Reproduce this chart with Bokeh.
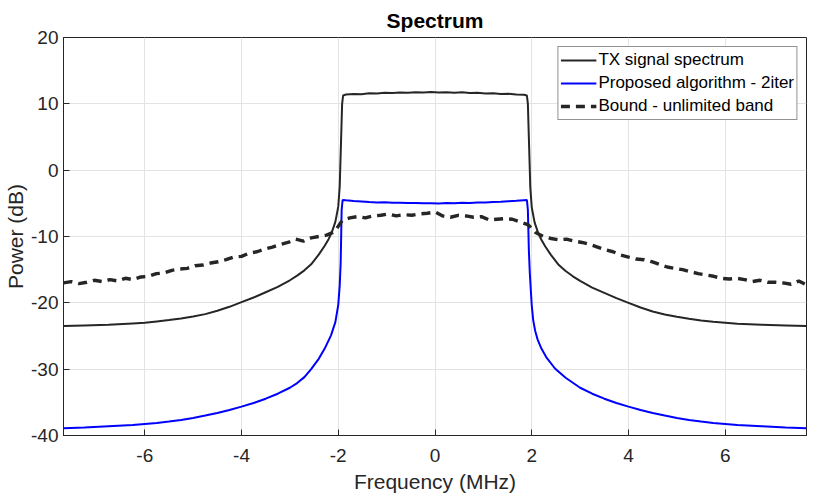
from bokeh.plotting import figure
from bokeh.models import Range1d, FixedTicker
from bokeh.embed import file_html
from bokeh.resources import INLINE

# ---------------- data ----------------
tx_x = [-7.68, -7.25, -6.75, -6.25, -6.0, -5.75, -5.5, -5.25, -5.0, -4.75, -4.5, -4.25,
        -4.0, -3.75, -3.5, -3.25, -3.0, -2.85, -2.7, -2.56, -2.4, -2.28, -2.2, -2.14,
        -2.06, -2.0, -1.97, -1.96, -1.94, -1.92, -1.90,
        -1.84, -1.68, -1.52, -1.36, -1.20, -1.04, -0.88, -0.72, -0.56, -0.40, -0.24, -0.08,
        0.08, 0.24, 0.40, 0.56, 0.72, 0.88, 1.04, 1.20, 1.36, 1.52, 1.68, 1.84,
        1.90, 1.92, 1.94, 1.96, 1.97, 2.0, 2.06, 2.14, 2.2, 2.28, 2.4, 2.56, 2.7, 2.85,
        3.0, 3.25, 3.5, 3.75, 4.0, 4.25, 4.5, 4.75, 5.0, 5.25, 5.5, 5.75, 6.0, 6.25,
        6.75, 7.25, 7.68]
tx_db = [-23.5, -23.4, -23.3, -23.1, -23.0, -22.8, -22.6, -22.35, -22.05, -21.7, -21.2, -20.6,
         -19.9, -19.2, -18.4, -17.6, -16.6, -15.9, -15.1, -14.2, -12.7, -11.4, -10.4, -9.5,
         -7.8, -5.5, -2.5, 0.0, 5.0, 10.0, 11.25,
         11.40, 11.50, 11.45, 11.58, 11.55, 11.66, 11.62, 11.72, 11.68, 11.76, 11.72, 11.78,
         11.70, 11.76, 11.68, 11.74, 11.64, 11.66, 11.56, 11.60, 11.48, 11.52, 11.42, 11.38,
         11.25, 10.0, 5.0, 0.0, -2.6, -5.6, -7.9, -9.6, -10.5, -11.5, -12.8, -14.3, -15.2, -16.0,
         -16.7, -17.7, -18.5, -19.3, -20.0, -20.7, -21.3, -21.75, -22.1, -22.4, -22.65, -22.85, -23.0, -23.15,
         -23.3, -23.4, -23.5]

alg_x = [-7.68, -7.25, -6.75, -6.25, -6.0, -5.75, -5.5, -5.25, -5.0, -4.75, -4.5, -4.25,
         -4.0, -3.75, -3.5, -3.25, -3.0, -2.85, -2.7, -2.56, -2.4, -2.28, -2.15, -2.06,
         -2.0, -1.97, -1.95, -1.94, -1.93, -1.91,
         -1.84, -1.68, -1.52, -1.36, -1.20, -1.04, -0.88, -0.72, -0.56, -0.40, -0.24, -0.08,
         0.08, 0.24, 0.40, 0.56, 0.72, 0.88, 1.04, 1.20, 1.36, 1.52, 1.68, 1.84,
         1.90, 1.92, 1.93, 1.94, 1.96, 1.98, 2.0, 2.03, 2.07, 2.12, 2.2, 2.31, 2.48, 2.7,
         3.0, 3.25, 3.5, 3.75, 4.0, 4.25, 4.5, 4.75, 5.0, 5.25, 5.5, 5.75, 6.0, 6.25,
         6.75, 7.25, 7.68]
alg_db = [-38.9, -38.8, -38.6, -38.4, -38.25, -38.1, -37.9, -37.65, -37.35, -37.0, -36.6, -36.15,
          -35.65, -35.1, -34.45, -33.7, -32.8, -32.1, -31.2, -30.0, -28.4, -26.9, -24.9, -22.9,
          -20.3, -17.4, -14.0, -10.0, -6.0, -4.5,
          -4.55, -4.66, -4.72, -4.80, -4.86, -4.84, -4.92, -4.90, -4.96, -4.94, -5.00, -4.98,
          -5.02, -4.96, -4.98, -4.92, -4.94, -4.86, -4.88, -4.80, -4.76, -4.68, -4.62, -4.52,
          -4.5, -6.0, -9.0, -12.0, -15.5, -18.0, -20.4, -22.6, -24.2, -25.5, -26.9, -28.3, -29.9, -31.3,
          -32.8, -33.7, -34.45, -35.1, -35.65, -36.15, -36.6, -37.0, -37.35, -37.65, -37.9, -38.1, -38.25, -38.4,
          -38.6, -38.8, -38.9]

bound_x = [-7.68, -7.52, -7.36, -7.20, -7.04, -6.88, -6.72, -6.56, -6.40, -6.24, -6.08, -5.92,
           -5.76, -5.60, -5.44, -5.28, -5.12, -4.96, -4.80, -4.64, -4.48, -4.32, -4.16, -4.00,
           -3.84, -3.68, -3.52, -3.36, -3.20, -3.04, -2.88, -2.72, -2.56, -2.40, -2.24, -2.08,
           -1.92, -1.76, -1.60, -1.44, -1.28, -1.12, -0.96, -0.80, -0.64, -0.48, -0.32, -0.16,
           0.00, 0.16, 0.32, 0.48, 0.64, 0.80, 0.96, 1.12, 1.28, 1.44, 1.60, 1.76,
           1.92, 2.08, 2.24, 2.40, 2.56, 2.72, 2.88, 3.04, 3.20, 3.36, 3.52, 3.68,
           3.84, 4.00, 4.16, 4.32, 4.48, 4.64, 4.80, 4.96, 5.12, 5.28, 5.44, 5.60,
           5.76, 5.92, 6.08, 6.24, 6.40, 6.56, 6.72, 6.88, 7.04, 7.20, 7.36, 7.52, 7.68]
bound_db = [-17.0, -16.8, -17.1, -16.9, -16.6, -16.8, -16.5, -16.7, -16.3, -16.5, -16.1, -16.0,
            -15.6, -15.5, -15.1, -14.9, -14.8, -14.4, -14.3, -14.0, -13.8, -13.5, -13.1, -13.0,
            -12.5, -12.3, -11.9, -11.6, -11.2, -10.9, -10.4, -10.7, -10.2, -10.0, -9.8, -9.3,
            -7.6, -7.2, -7.0, -7.2, -6.9, -6.8, -6.6, -6.9, -6.7, -6.8, -6.6, -6.5,
            -6.3, -6.9, -7.1, -6.8, -6.9, -7.1, -7.0, -7.5, -7.4, -7.3, -7.4, -7.8,
            -8.2, -9.4, -10.0, -10.3, -10.5, -10.4, -10.7, -10.9, -11.2, -11.6, -12.0, -12.3,
            -12.8, -13.1, -13.4, -13.5, -13.8, -14.2, -14.6, -14.8, -15.0, -15.3, -15.6, -15.8,
            -16.0, -16.3, -16.4, -16.3, -16.5, -16.8, -16.6, -16.9, -16.9, -17.0, -17.2, -16.7, -17.3]

x_ticks = [-6, -4, -2, 0, 2, 4, 6]
x_tick_labels = ["-6", "-4", "-2", "0", "2", "4", "6"]
y_ticks = [-40, -30, -20, -10, 0, 10, 20]
y_tick_labels = ["-40", "-30", "-20", "-10", "0", "10", "20"]

FONT = "Liberation Sans"
TXT = "#262626"

p = figure(width=822, height=496, output_backend="svg", toolbar_location=None,
           x_range=Range1d(-7.68, 7.68), y_range=Range1d(-40, 20),
           min_border_left=63, min_border_right=16, min_border_top=37, min_border_bottom=61,
           background_fill_color="white", border_fill_color="white")

p.title.text = "Spectrum"
p.title.align = "center"
p.title.vertical_align = "middle"
p.title.text_font = FONT
p.title.text_font_size = "21px"
p.title.text_font_style = "bold"
p.title.text_color = "#000000"

for ax, ticks, labels in ((p.xaxis[0], x_ticks, x_tick_labels), (p.yaxis[0], y_ticks, y_tick_labels)):
    ax.ticker = FixedTicker(ticks=ticks)
    ax.major_label_overrides = {t: s for t, s in zip(ticks, labels)}
    ax.major_tick_in = 6
    ax.major_tick_out = 0
    ax.minor_tick_in = 0
    ax.minor_tick_out = 0
    ax.axis_line_color = TXT
    ax.major_tick_line_color = TXT
    ax.major_label_text_font = FONT
    ax.major_label_text_font_size = "19px"
    ax.major_label_text_color = TXT
    ax.axis_label_text_font = FONT
    ax.axis_label_text_font_size = "21px"
    ax.axis_label_text_font_style = "normal"
    ax.axis_label_text_color = TXT

p.xaxis.axis_label = "Frequency (MHz)"
p.yaxis.axis_label = "Power (dB)"
p.xaxis.major_label_standoff = 13
p.xaxis.axis_label_standoff = 5
p.yaxis.major_label_standoff = 5
p.yaxis.axis_label_standoff = 1

p.xgrid.ticker = FixedTicker(ticks=x_ticks)
p.ygrid.ticker = FixedTicker(ticks=y_ticks)
p.grid.grid_line_color = "#e3e3e3"
p.grid.grid_line_width = 1
p.outline_line_color = TXT
p.outline_line_width = 1

p.line(tx_x, tx_db, line_color="#262626", line_width=2, legend_label="TX signal spectrum")
p.line(alg_x, alg_db, line_color="#0000ff", line_width=2, legend_label="Proposed algorithm - 2iter")
p.line(bound_x, bound_db, line_color="#262626", line_width=3.4, line_dash="9 6",
       legend_label="Bound - unlimited band")

lg = p.legend[0]
lg.location = "top_right"
lg.margin = 9
lg.padding = 2
lg.spacing = 1
lg.glyph_width = 36
lg.glyph_height = 22
lg.label_height = 22
lg.label_standoff = 2
lg.label_text_font = FONT
lg.label_text_font_size = "17px"
lg.label_text_color = "#000000"
lg.border_line_color = "#262626"
lg.border_line_width = 1
lg.background_fill_color = "white"
lg.background_fill_alpha = 1

open("out.html", "w").write(file_html(p, INLINE))
